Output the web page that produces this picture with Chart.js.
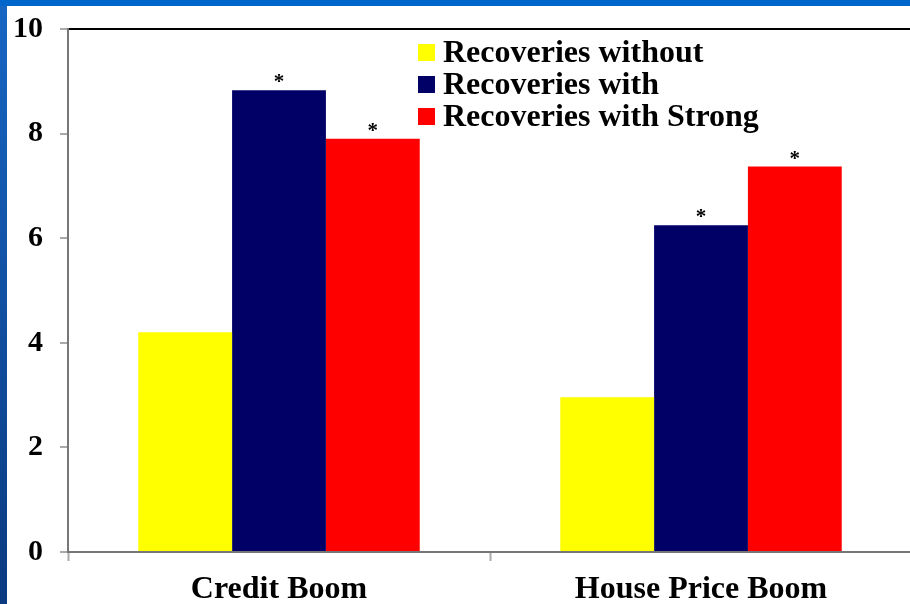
<!DOCTYPE html>
<html lang="en">
  <head>
    <meta charset="UTF-8" />
    <script src="https://cdn.jsdelivr.net/npm/chart.js@4.4.1/dist/chart.umd.min.js"></script>
    <style>
      body {
        margin: 0;
        width: 910px;
        height: 604px;
        overflow: hidden;
        background: linear-gradient(#1766c4, #0b3a80);
      }
      #slide {
        position: absolute;
        left: 7px;
        top: 6px;
        width: 903px;
        height: 598px;
        background: #fff;
      }
      #topbar {
        position: absolute;
        left: 0;
        top: 0;
        width: 910px;
        height: 6px;
        background: #0066cc;
      }
      #wrap {
        position: absolute;
        left: 0;
        top: 0;
        width: 910px;
        height: 604px;
        overflow: hidden;
      }
    </style>
    <title>Recoveries</title>
  </head>
  <body>
    <div id="topbar"></div>
    <div id="slide"></div>
    <div id="wrap">
      <canvas id="myChart" width="914" height="604"></canvas>
    </div>

    <script>
      // data
      const categories = ['Credit Boom', 'House Price Boom'];
      const seriesNames = ['Recoveries without', 'Recoveries with', 'Recoveries with Strong'];
      const withoutVals = [4.2, 2.96];
      const withVals = [8.83, 6.25];
      const strongVals = [7.9, 7.37];
      // which bars carry a star
      const starMarks = [[false, false], [true, true], [true, true]];
      const yTicks = [0, 2, 4, 6, 8, 10];

      const colors = ['#ffff00', '#000066', '#ff0000'];
      const serif = "'Liberation Serif', 'Times New Roman', serif";

      // stars above the bars + legend top right
      const extras = {
        id: 'extras',
        afterDatasetsDraw(chart) {
          const ctx = chart.ctx;
          ctx.save();
          ctx.fillStyle = '#000';
          ctx.font = 'bold 21px ' + serif;
          ctx.textAlign = 'center';
          ctx.textBaseline = 'alphabetic';
          const m = ctx.measureText('*');
          const mid = (m.actualBoundingBoxAscent - m.actualBoundingBoxDescent) / 2;
          chart.data.datasets.forEach((ds, i) => {
            const meta = chart.getDatasetMeta(i);
            meta.data.forEach((bar, j) => {
              if (starMarks[i][j]) ctx.fillText('*', bar.x, bar.y - 12 + mid);
            });
          });

          ctx.font = 'bold 32px ' + serif;
          ctx.textAlign = 'left';
          ctx.textBaseline = 'middle';
          chart.data.datasets.forEach((ds, i) => {
            const y = 53 + i * 32;
            ctx.fillStyle = ds.backgroundColor;
            ctx.fillRect(418, y - 9, 17, 17);
            ctx.fillStyle = '#000';
            ctx.fillText(ds.label, 443, y + 1);
          });
          ctx.restore();
        }
      };

      const ctx = document.getElementById('myChart').getContext('2d');
      const chart = new Chart(ctx, {
        type: 'bar',
        data: {
          labels: categories,
          datasets: [
            { label: seriesNames[0], data: withoutVals, backgroundColor: colors[0] },
            { label: seriesNames[1], data: withVals, backgroundColor: colors[1] },
            { label: seriesNames[2], data: strongVals, backgroundColor: colors[2] }
          ]
        },
        options: {
          responsive: false,
          animation: false,
          layout: { padding: { top: 29, left: 0, right: 2, bottom: 0 } },
          datasets: {
            bar: { categoryPercentage: 0.667, barPercentage: 1 }
          },
          plugins: {
            legend: { display: false },
            tooltip: { enabled: false }
          },
          scales: {
            x: {
              grid: {
                color: 'transparent',
                tickColor: '#aaaaaa',
                tickLength: 9,
                tickWidth: 2
              },
              border: { color: '#777777', width: 2 },
              ticks: {
                color: '#000',
                padding: 10,
                font: { family: serif, size: 32, weight: 'bold' }
              },
              afterFit(scale) { scale.height = 52; }
            },
            y: {
              min: 0,
              max: 10,
              afterBuildTicks(scale) {
                scale.ticks = yTicks.map(v => ({ value: v }));
              },
              grid: {
                color: c => (c.tick && c.tick.value === 10 ? '#000' : 'transparent'),
                lineWidth: 2,
                tickColor: '#aaaaaa',
                tickLength: 8,
                tickWidth: 2
              },
              border: { color: '#777777', width: 2 },
              ticks: {
                color: '#000',
                padding: 17,
                font: { family: serif, size: 30, weight: 'bold' }
              },
              afterFit(scale) {
                scale.width = 68;
                scale.paddingTop = 0;
                scale.paddingBottom = 0;
              }
            }
          }
        },
        plugins: [extras]
      });
    </script>
  </body>
</html>
